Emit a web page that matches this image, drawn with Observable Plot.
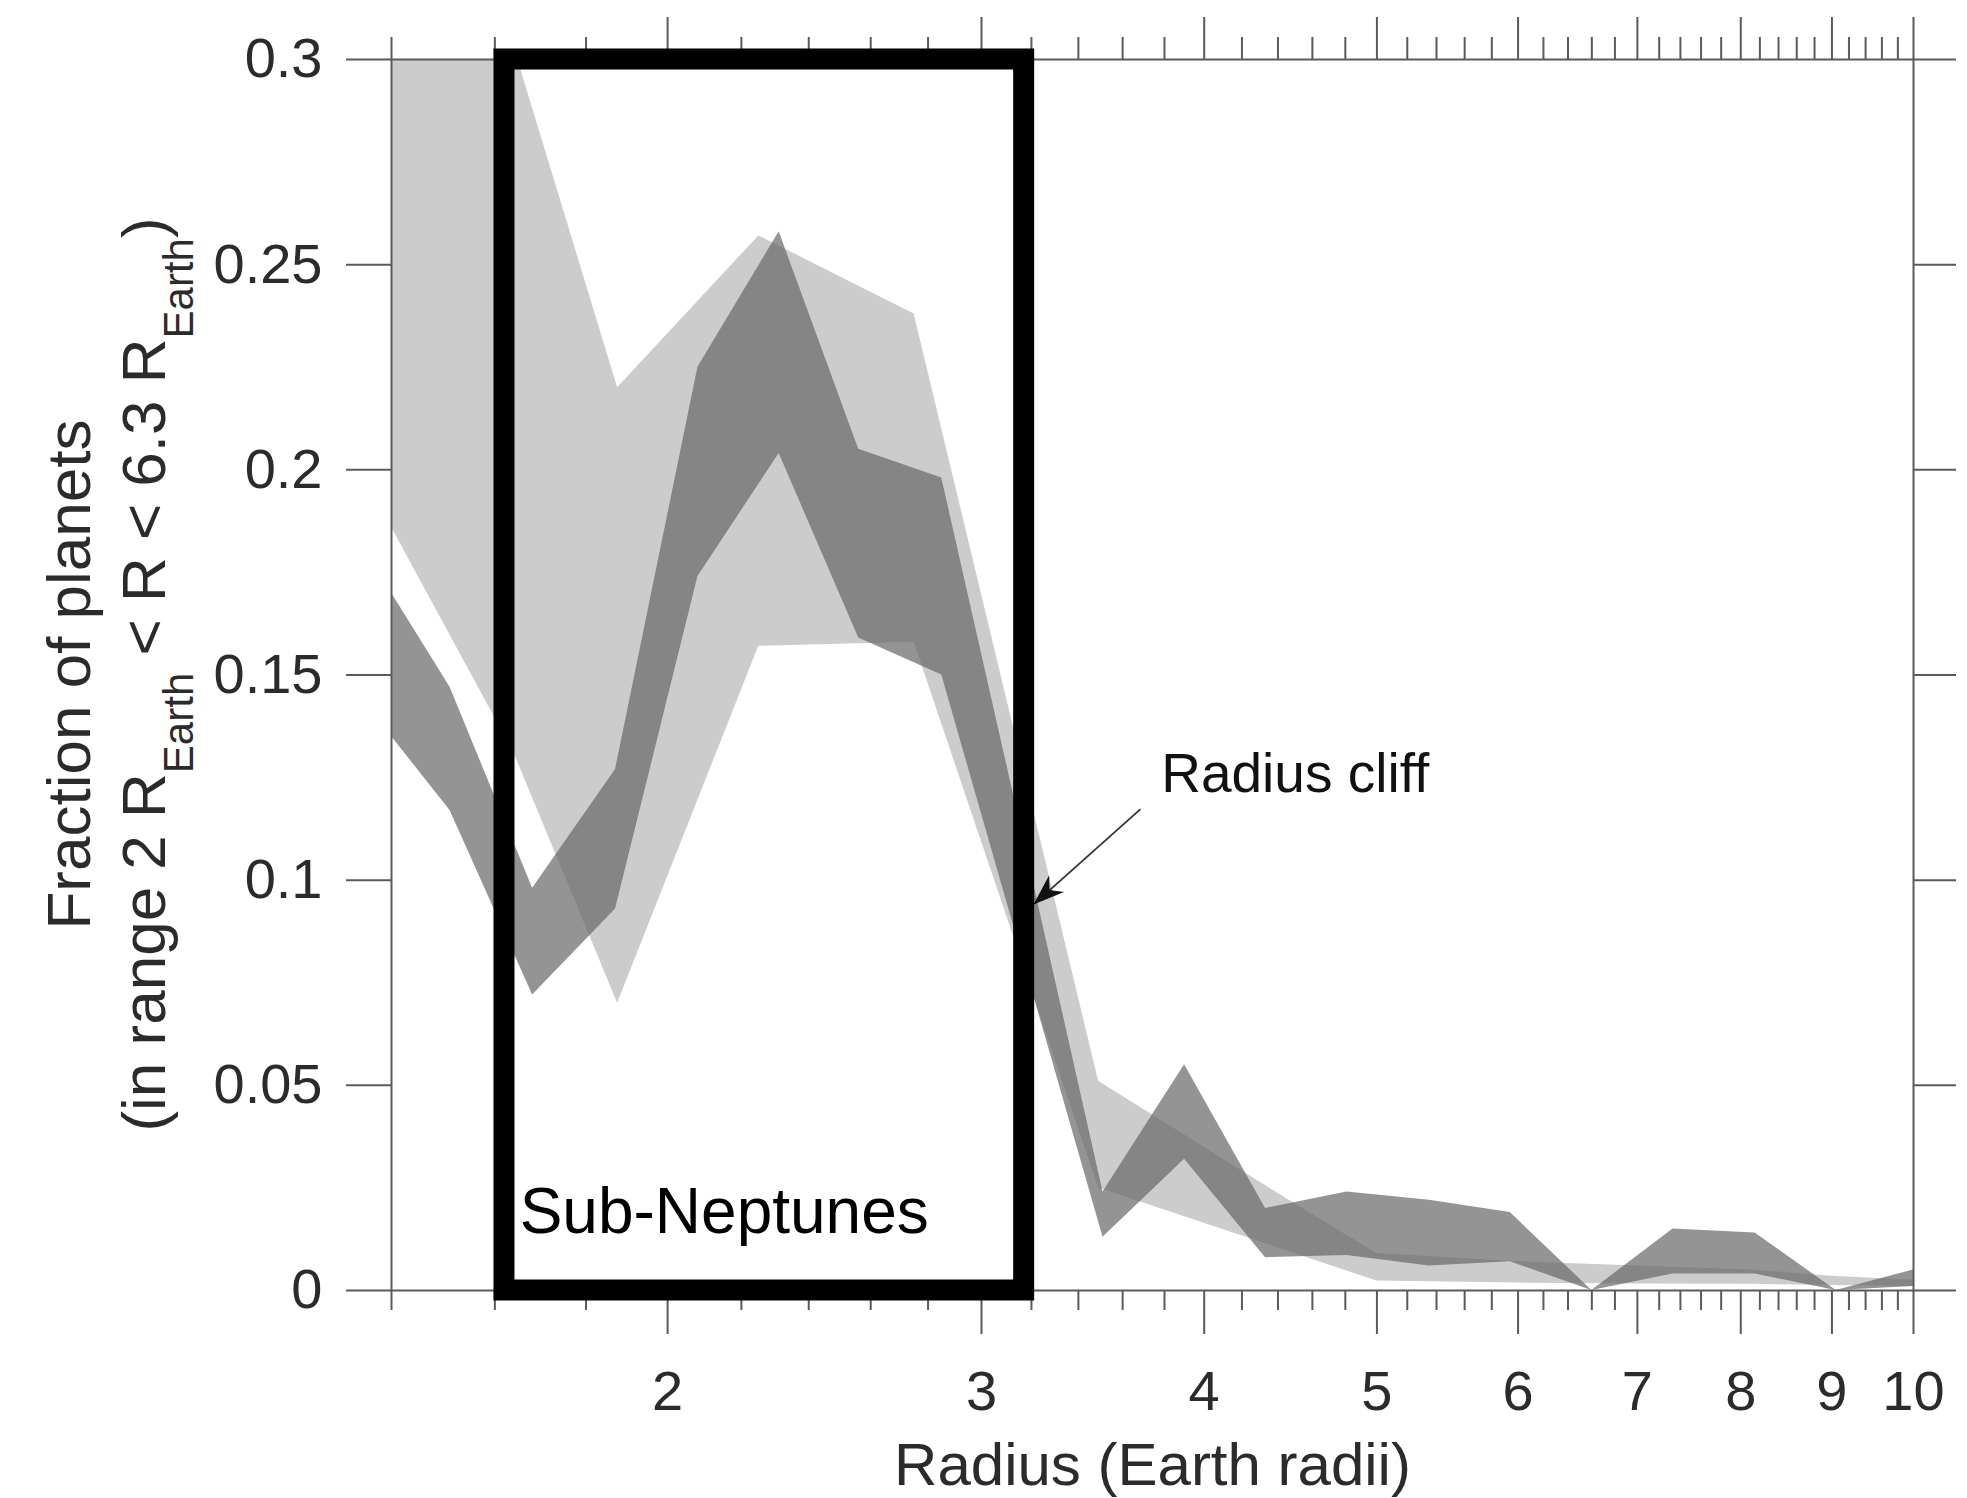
<!DOCTYPE html>
<html>
<head>
<meta charset="utf-8">
<script src="https://cdn.jsdelivr.net/npm/d3@7"></script>
<script src="https://cdn.jsdelivr.net/npm/@observablehq/plot@0.6"></script>
<style>
  html, body { margin: 0; padding: 0; background: #fff; }
  #chart svg { display: block; }
</style>
</head>
<body>
<div id="chart"></div>
<script>
// Narrow band: fraction of planets per radius bin (lower / upper bound)
const darkRadius = [1.40, 1.51, 1.68, 1.87, 2.08, 2.31, 2.56, 2.85, 3.16, 3.51, 3.90, 4.33, 4.81, 5.35, 5.94, 6.60, 7.33, 8.15, 9.05, 10.0];
const darkUpper  = [0.170, 0.147, 0.098, 0.127, 0.225, 0.258, 0.205, 0.198, 0.112, 0.024, 0.055, 0.020, 0.024, 0.022, 0.019, 0.000, 0.015, 0.014, 0.000, 0.005];
const darkLower  = [0.135, 0.117, 0.072, 0.093, 0.174, 0.204, 0.159, 0.150, 0.082, 0.013, 0.032, 0.008, 0.0085, 0.006, 0.007, 0.000, 0.004, 0.004, 0.000, 0.001];

// Wide band: coarser bins, broader uncertainty
const lightRadius = [1.40, 1.64, 1.875, 2.25, 2.75, 3.49, 4.44, 5.0, 6.0, 7.0, 8.1, 9.0, 10.0];
const lightUpper  = [0.330, 0.303, 0.220, 0.257, 0.238, 0.051, 0.0226, 0.009, 0.007, 0.006, 0.005, 0.0035, 0.0025];
const lightLower  = [0.186, 0.131, 0.070, 0.157, 0.158, 0.025, 0.0098, 0.0023, 0.0018, 0.0016, 0.0015, 0.0012, 0.001];

// Axis ticks
const yTicks = [0, 0.05, 0.1, 0.15, 0.2, 0.25, 0.3];
const yTickLabels = ["0", "0.05", "0.1", "0.15", "0.2", "0.25", "0.3"];
const xMajorTicks = [2, 3, 4, 5, 6, 7, 8, 9, 10];
const xTickLabels = ["2", "3", "4", "5", "6", "7", "8", "9", "10"];
const xMinorTicks = [1.4, 1.6, 1.8, 2.2, 2.4, 2.6, 2.8, 3.2, 3.4, 3.6, 3.8, 4.2, 4.4, 4.6, 4.8,
  5.2, 5.4, 5.6, 5.8, 6.2, 6.4, 6.6, 6.8, 7.2, 7.4, 7.6, 7.8, 8.2, 8.4, 8.6, 8.8, 9.2, 9.4, 9.6, 9.8];

// Annotations (data units)
const subNeptuneRange = [1.62, 3.17];
const subNeptuneFraction = [0, 0.3];
const subNeptuneLabel = "Sub-Neptunes";
const subNeptuneLabelAt = [1.652, 0.014];
const cliffLabel = "Radius cliff";
const cliffLabelAt = [3.784, 0.1214];
const cliffArrowFrom = [3.684, 0.1173];
const cliffArrowTo = [3.213, 0.0943];

const xTitle = "Radius (Earth radii)";

const FONT = "'Liberation Sans', Arial, Helvetica, sans-serif";
const AXIS = "#5a5a5a";
const INK = "#2b2b2b";

const dark = darkRadius.map((r, i) => ({r, lo: darkLower[i], hi: darkUpper[i]}));
const light = lightRadius.map((r, i) => ({r, lo: lightLower[i], hi: lightUpper[i]}));

// Filled, barbed arrow head pointing along the vector
const arrowHead = {
  draw(context, l) {
    const w = l * 0.36;
    context.moveTo(0, -l);
    context.lineTo(w, 0);
    context.lineTo(0, -l * 0.3);
    context.lineTo(-w, 0);
    context.closePath();
  }
};

const marginLeft = 391, marginRight = 54, marginTop = 59, marginBottom = 208;
const width = 1967, height = 1498;

const chart = Plot.plot({
  width, height, marginLeft, marginRight, marginTop, marginBottom,
  style: {fontFamily: FONT, fontSize: "56px", color: INK, background: "#fff", overflow: "visible"},
  x: {type: "log", domain: [1.4, 10]},
  y: {domain: [0, 0.3]},
  marks: [
    Plot.areaY(light, {x: "r", y1: "lo", y2: "hi", fill: "#cccccc", clip: true}),
    Plot.areaY(dark, {x: "r", y1: "lo", y2: "hi", fill: "#666666", fillOpacity: 0.7, clip: true}),
    Plot.frame({stroke: AXIS, strokeWidth: 2}),
    // bottom axis
    Plot.axisX(xMinorTicks, {anchor: "bottom", tickSize: 20, stroke: AXIS, strokeWidth: 2, tickFormat: () => "", label: null}),
    Plot.axisX(xMajorTicks, {anchor: "bottom", tickSize: 44, tickPadding: 36, stroke: AXIS, strokeWidth: 2,
      tickFormat: d => xTickLabels[xMajorTicks.indexOf(d)], fontSize: 56, fill: INK, label: null}),
    // top axis
    Plot.axisX(xMinorTicks, {anchor: "top", tickSize: 23, stroke: AXIS, strokeWidth: 2, tickFormat: () => "", label: null}),
    Plot.axisX(xMajorTicks, {anchor: "top", tickSize: 43, stroke: AXIS, strokeWidth: 2, tickFormat: () => "", label: null}),
    // left and right axes
    Plot.axisY(yTicks, {anchor: "left", tickSize: 45, tickPadding: 24, stroke: AXIS, strokeWidth: 2,
      tickFormat: d => yTickLabels[yTicks.indexOf(d)], fontSize: 56, fill: INK, label: null}),
    Plot.axisY(yTicks, {anchor: "right", tickSize: 42, stroke: AXIS, strokeWidth: 2, tickFormat: () => "", label: null}),
    // sub-Neptune box
    Plot.rect([{}], {x1: subNeptuneRange[0], x2: subNeptuneRange[1], y1: subNeptuneFraction[0], y2: subNeptuneFraction[1],
      fill: "none", stroke: "#000", strokeWidth: 21}),
    Plot.text([subNeptuneLabel], {x: subNeptuneLabelAt[0], y: subNeptuneLabelAt[1], text: d => d,
      textAnchor: "start", lineAnchor: "bottom", fontSize: 64, fill: "#000"}),
    // radius cliff annotation
    Plot.link([{}], {x1: cliffArrowFrom[0], y1: cliffArrowFrom[1], x2: cliffArrowTo[0], y2: cliffArrowTo[1],
      stroke: "#333", strokeWidth: 1.8}),
    Plot.vector([{}], {x: cliffArrowTo[0], y: cliffArrowTo[1], length: 28, rotate: 228, anchor: "end",
      shape: arrowHead, fill: "#111", stroke: "#111", strokeWidth: 1, strokeLinejoin: "miter"}),
    Plot.text([cliffLabel], {x: cliffLabelAt[0], y: cliffLabelAt[1], text: d => d,
      textAnchor: "start", lineAnchor: "bottom", fontSize: 55, fill: "#111"}),
    // x title
    Plot.text([xTitle], {frameAnchor: "bottom", dy: 194, text: d => d, lineAnchor: "bottom", fontSize: 60, fill: INK})
  ]
});

document.getElementById("chart").appendChild(chart);

// y-axis title with subscripts, rotated
const svg = d3.select(chart);
const cy = (marginTop + (height - marginBottom)) / 2;
const yTitle = svg.append("g")
  .attr("font-family", FONT)
  .attr("fill", INK)
  .attr("font-size", 62)
  .attr("text-anchor", "middle");
yTitle.append("text")
  .attr("transform", `translate(90,${cy}) rotate(-90)`)
  .text("Fraction of planets");
const line2 = yTitle.append("text")
  .attr("transform", `translate(165,${cy}) rotate(-90)`);
line2.append("tspan").text("(in range 2\u00a0R");
line2.append("tspan").attr("font-size", 42).attr("dy", 28).text("Earth");
line2.append("tspan").attr("dy", -28).text("\u00a0<\u00a0R\u00a0<\u00a06.3\u00a0R");
line2.append("tspan").attr("font-size", 42).attr("dy", 28).text("Earth");
line2.append("tspan").attr("dy", -28).text(")");
</script>
</body>
</html>
